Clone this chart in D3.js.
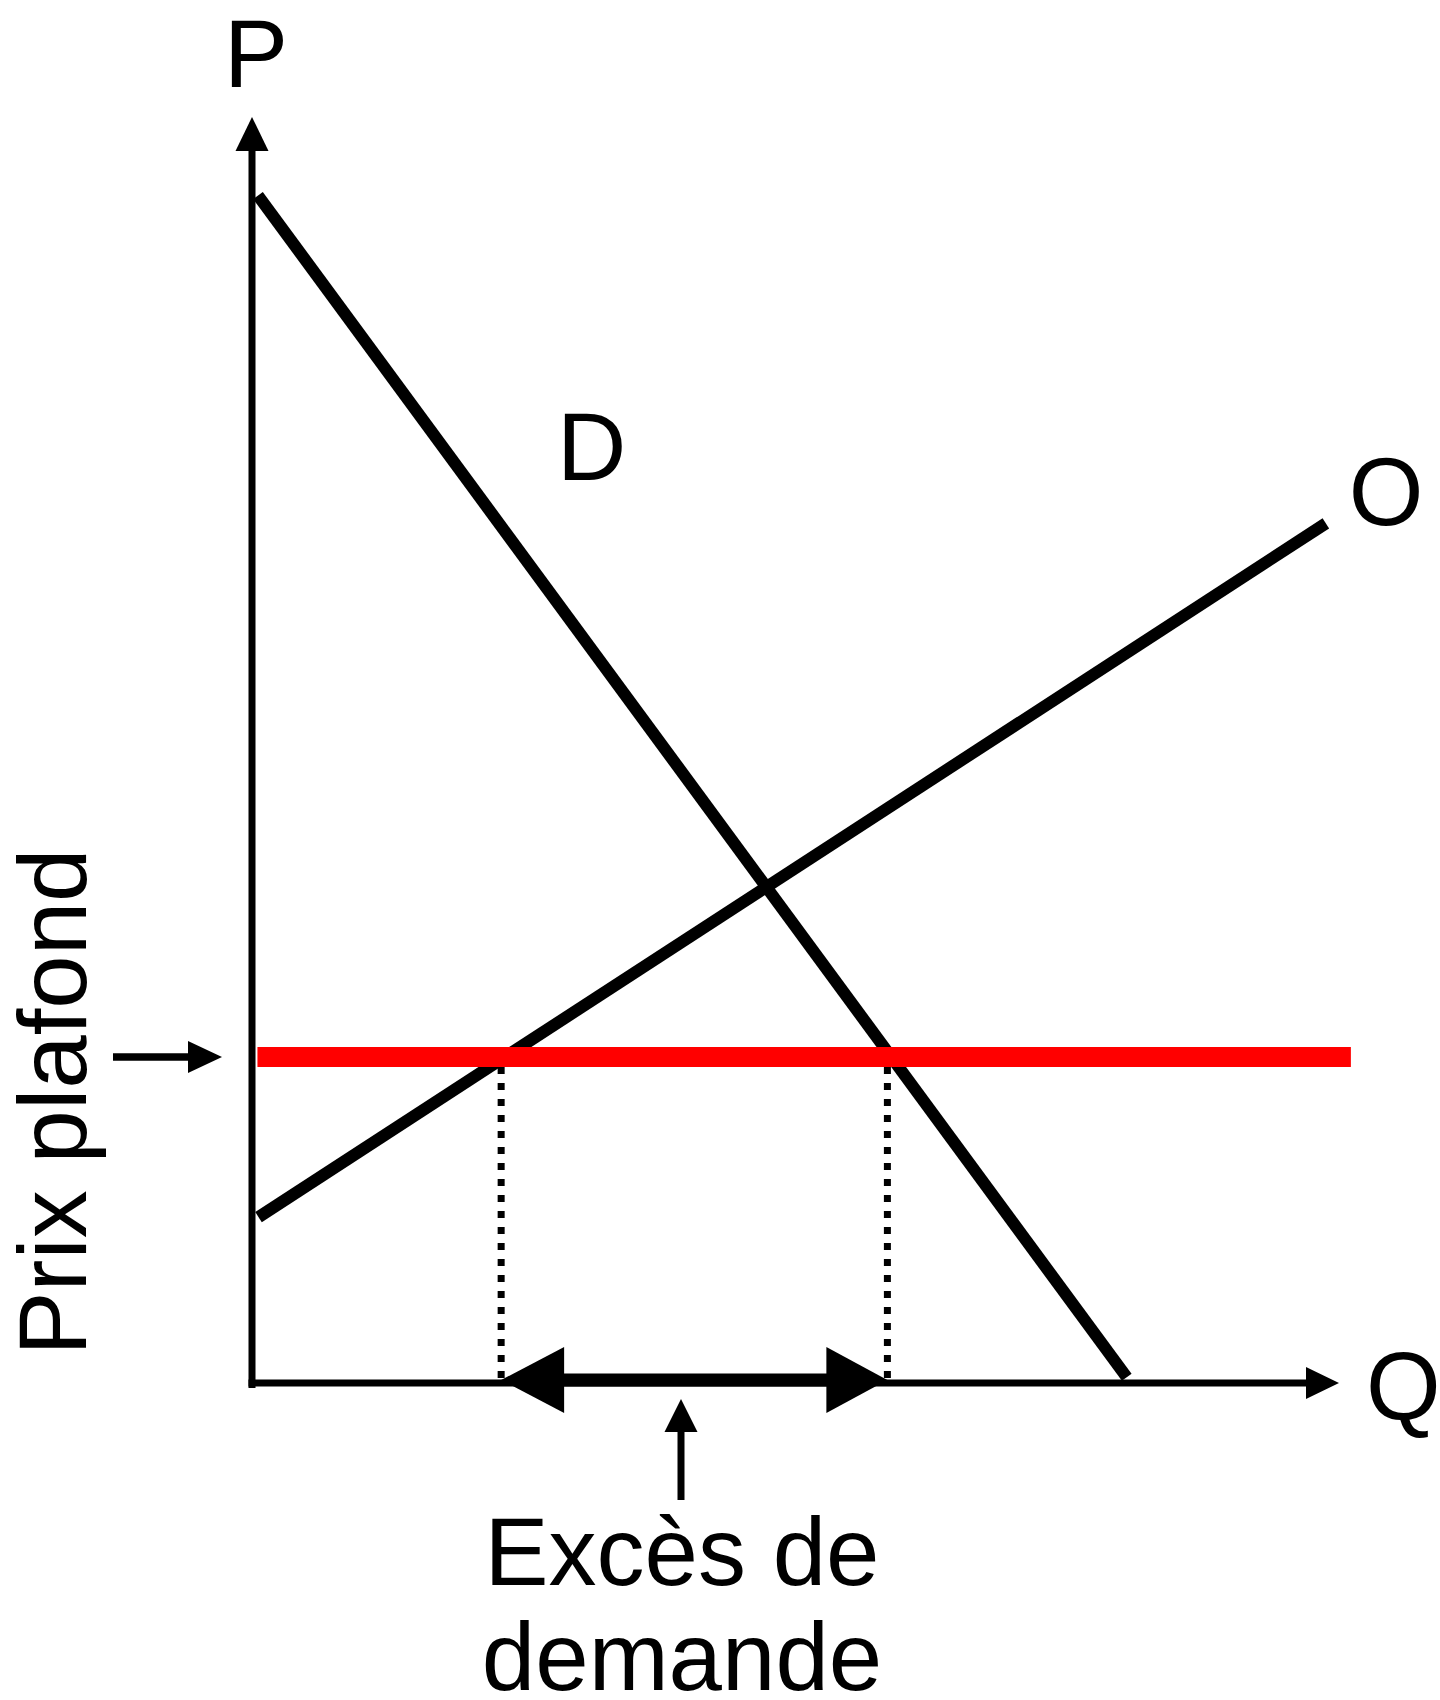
<!DOCTYPE html>
<html>
<head>
<meta charset="utf-8">
<script src="https://cdn.jsdelivr.net/npm/d3@7"></script>
<style>
  html, body { margin: 0; padding: 0; background: #ffffff; }
  svg { display: block; }
  text { font-family: "Liberation Sans", Arial, Helvetica, sans-serif; fill: #000; }
</style>
</head>
<body>
<svg id="chart" width="1440" height="1700"></svg>
<script>
// ---- data (economic units: Q on 0..100, P on 0..100) ----
const demandQ = [0.55, 80.4];
const demandP = [93.8, 0.45];
const supplyQ = [0.6, 98.7];
const supplyP = [13.1, 67.9];
const ceilingP = 25.75;
const ceilingQ = [0.5, 101.0];
const quantitySupplied = 22.9;   // Qo at ceiling price
const quantityDemanded = 58.4;   // Qd at ceiling price
const axisLabels = ["P", "Q"];
const curveLabels = ["D", "O"];
const ceilingLabel = "Prix plafond";
const excessLabel = ["Excès de", "demande"];

// ---- scales ----
const x = d3.scaleLinear().domain([0, 100]).range([252, 1340]);
const y = d3.scaleLinear().domain([0, 100]).range([1383, 117]);

const svg = d3.select("#chart");
const line = d3.line().x(d => x(d[0])).y(d => y(d[1]));

function triangle(tipX, tipY, dir, len, half) {
  let pts;
  if (dir === "up") pts = [[tipX, tipY], [tipX - half, tipY + len], [tipX + half, tipY + len]];
  if (dir === "right") pts = [[tipX, tipY], [tipX - len, tipY - half], [tipX - len, tipY + half]];
  if (dir === "left") pts = [[tipX, tipY], [tipX + len, tipY - half], [tipX + len, tipY + half]];
  return "M" + pts.map(p => p.join(",")).join("L") + "Z";
}

// ---- axes ----
const ox = x(0), oy = y(0);
svg.append("line").attr("x1", ox).attr("y1", oy + 5).attr("x2", ox).attr("y2", y(100) + 32)
  .attr("stroke", "#000").attr("stroke-width", 7);
svg.append("path").attr("d", triangle(ox, y(100), "up", 34, 16.5)).attr("fill", "#000");
svg.append("line").attr("x1", ox - 3.5).attr("y1", oy).attr("x2", x(100) - 32).attr("y2", oy)
  .attr("stroke", "#000").attr("stroke-width", 7);
svg.append("path").attr("d", triangle(x(100) - 1, oy, "right", 33, 16)).attr("fill", "#000");

// ---- dotted guides ----
[quantitySupplied, quantityDemanded].forEach(q => {
  svg.append("line")
    .attr("x1", x(q)).attr("y1", y(ceilingP) + 10)
    .attr("x2", x(q)).attr("y2", oy - 2)
    .attr("stroke", "#000").attr("stroke-width", 7)
    .attr("stroke-dasharray", "7,9");
});

// ---- curves ----
svg.append("path")
  .attr("d", line(demandQ.map((q, i) => [q, demandP[i]])))
  .attr("fill", "none").attr("stroke", "#000").attr("stroke-width", 12);
svg.append("path")
  .attr("d", line(supplyQ.map((q, i) => [q, supplyP[i]])))
  .attr("fill", "none").attr("stroke", "#000").attr("stroke-width", 12);

// ---- ceiling price ----
svg.append("path")
  .attr("d", line(ceilingQ.map(q => [q, ceilingP])))
  .attr("fill", "none").attr("stroke", "#ff0000").attr("stroke-width", 20);

// ---- excess demand double arrow ----
const ay = oy - 3;
const xl = x(quantitySupplied), xr = x(quantityDemanded);
svg.append("line").attr("x1", xl + 50).attr("y1", ay).attr("x2", xr - 50).attr("y2", ay)
  .attr("stroke", "#000").attr("stroke-width", 13);
svg.append("path").attr("d", triangle(xl, ay, "left", 63, 33)).attr("fill", "#000");
svg.append("path").attr("d", triangle(xr, ay, "right", 61, 33)).attr("fill", "#000");

// up arrow pointing at the excess
const ux = 681;
svg.append("line").attr("x1", ux).attr("y1", 1430).attr("x2", ux).attr("y2", 1500)
  .attr("stroke", "#000").attr("stroke-width", 7);
svg.append("path").attr("d", triangle(ux, 1399, "up", 33, 16.5)).attr("fill", "#000");

// arrow pointing at the ceiling price
const cy = y(ceilingP);
svg.append("line").attr("x1", 113).attr("y1", cy).attr("x2", 192).attr("y2", cy)
  .attr("stroke", "#000").attr("stroke-width", 7.5);
svg.append("path").attr("d", triangle(222, cy, "right", 34, 16)).attr("fill", "#000");

// ---- labels ----
const fs = 96;
svg.append("text").attr("x", 224).attr("y", 87).attr("font-size", fs).text(axisLabels[0]);
svg.append("text").attr("x", 1366).attr("y", 1420).attr("font-size", fs).text(axisLabels[1]);
svg.append("text").attr("x", 557).attr("y", 480).attr("font-size", fs).text(curveLabels[0]);
svg.append("text").attr("x", 1386).attr("y", 525).attr("text-anchor", "middle").attr("font-size", fs).text(curveLabels[1]);

svg.append("text")
  .attr("transform", "translate(86,1102) rotate(-90)")
  .attr("text-anchor", "middle").attr("font-size", fs).text(ceilingLabel);

svg.append("text").attr("x", 682).attr("y", 1585).attr("text-anchor", "middle")
  .attr("font-size", fs).text(excessLabel[0]);
svg.append("text").attr("x", 682).attr("y", 1690).attr("text-anchor", "middle")
  .attr("font-size", fs).text(excessLabel[1]);
</script>
</body>
</html>
